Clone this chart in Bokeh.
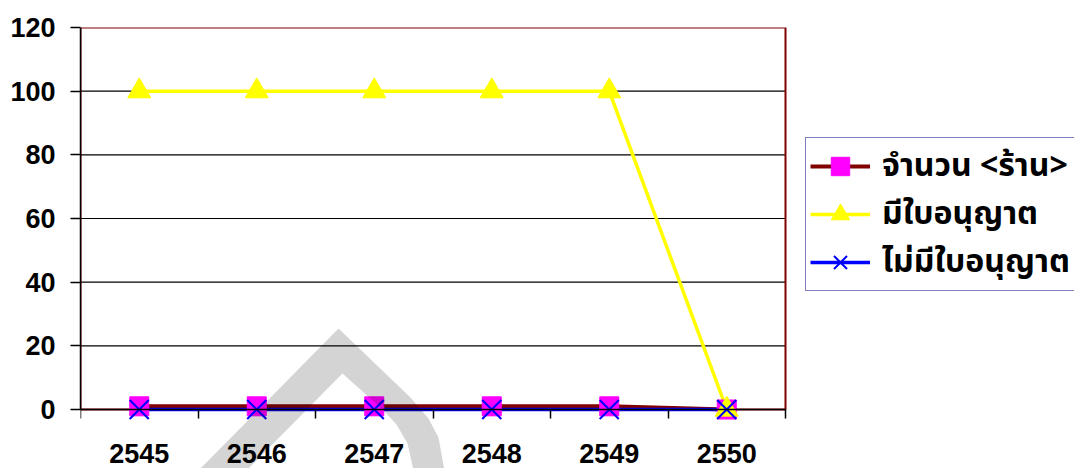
from bokeh.plotting import figure
from bokeh.models import (Range1d, LinearAxis, FixedTicker, Legend, LegendItem,
                          BoxAnnotation)
from bokeh.embed import file_html
from bokeh.resources import INLINE

# ---- data ----
years = ["2545", "2546", "2547", "2548", "2549", "2550"]
shops = [1, 1, 1, 1, 1, 0]            # จำนวน <ร้าน>
licensed = [100, 100, 100, 100, 100, 0]  # มีใบอนุญาต
unlicensed = [0, 0, 0, 0, 0, 0]        # ไม่มีใบอนุญาต
series_labels = ["จำนวน <ร้าน>", "มีใบอนุญาต", "ไม่มีใบอนุญาต"]
y_ticks = [0, 20, 40, 60, 80, 100, 120]

# ---- layout geometry ----
W, H = 1074, 468
B_LEFT, B_TOP = 80, 27
plot_w_px = 705.0                    # pixels for the category area
plot_px = 382.0                      # pixels for 0..120
frame_w = W - B_LEFT
n = len(years)
px_per_cat = plot_w_px / n
px_per_unit = plot_px / y_ticks[-1]
extra_below = H - B_TOP - plot_px    # frame continues below zero
y_min = -extra_below / px_per_unit
x_max = frame_w / px_per_cat         # frame continues right (legend area)
xs = [i + 0.5 for i in range(n)]

p = figure(width=W, height=H, x_range=Range1d(0, x_max), y_range=Range1d(y_min, y_ticks[-1]),
           output_backend="svg", toolbar_location=None,
           x_axis_location=None, y_axis_location=None,
           min_border_left=B_LEFT, min_border_right=0,
           min_border_top=B_TOP, min_border_bottom=0)
p.outline_line_color = None
p.background_fill_color = "white"
p.border_fill_color = "white"
p.xgrid.visible = False
p.ygrid.visible = False

FONT = "Liberation Sans"

yaxis = LinearAxis(ticker=FixedTicker(ticks=y_ticks), bounds=(0, y_ticks[-1]))
yaxis.axis_line_color = "black"
yaxis.axis_line_width = 1.5
yaxis.major_tick_line_color = "black"
yaxis.major_tick_line_width = 1.5
yaxis.major_tick_out = 10
yaxis.major_tick_in = 0
yaxis.minor_tick_line_color = None
yaxis.major_label_text_font = FONT
yaxis.major_label_text_font_style = "bold"
yaxis.major_label_text_font_size = "27px"
yaxis.major_label_text_color = "black"
yaxis.major_label_standoff = 15
p.add_layout(yaxis, "left")

xaxis = LinearAxis(fixed_location=0,
                   ticker=FixedTicker(ticks=xs, minor_ticks=list(range(n + 1))),
                   bounds=(0, n))
xaxis.major_label_overrides = {x: y for x, y in zip(xs, years)}
xaxis.axis_line_color = "black"
xaxis.axis_line_width = 1.5
xaxis.major_tick_line_color = None
xaxis.major_tick_out = 0
xaxis.major_tick_in = 0
xaxis.minor_tick_line_color = "black"
xaxis.minor_tick_line_width = 1.5
xaxis.minor_tick_out = 9
xaxis.minor_tick_in = 0
xaxis.major_label_text_font = FONT
xaxis.major_label_text_font_style = "bold"
xaxis.major_label_text_font_size = "27px"
xaxis.major_label_text_color = "black"
xaxis.major_label_standoff = 25
p.add_layout(xaxis, "below")

# horizontal gridlines limited to the plot area
grid_ticks = y_ticks[1:-1]
p.segment(x0=[0] * len(grid_ticks), x1=[n] * len(grid_ticks), y0=grid_ticks, y1=grid_ticks,
          line_color="black", line_width=1.2, level="underlay")

border = BoxAnnotation(left=0, right=n, bottom=0, top=y_ticks[-1], fill_color=None,
                       line_color="#800000", line_alpha=1, line_width=2, level="underlay")
p.add_layout(border)

# ---- series: lines first, then markers ----
l1 = p.line(xs, shops, color="#800000", line_width=4)
l2 = p.line(xs, licensed, color="#FFFF00", line_width=3.5)
l3 = p.line(xs, unlicensed, color="#0000FF", line_width=3.5)
m1 = p.scatter(xs, shops, marker="square", size=19, fill_color="#FF00FF", line_color="#FF00FF")
m2 = p.scatter(xs, licensed, marker="triangle", size=23, fill_color="#FFFF00", line_color="#FFFF00")
m3 = p.scatter(xs, unlicensed, marker="x", size=27, line_color="#0000FF", line_width=2)

# ---- faint watermark (page-pixel outline converted to data units) ----
wm_px = [(198, 470), (338, 328), (410, 397), (428, 418), (438, 437), (444, 470),
         (413, 470), (407, 443), (396, 424), (383, 410), (342, 373), (246, 470)]
ZERO_PX = B_TOP + plot_px
wx = [(a - B_LEFT) / px_per_cat for a, b in wm_px]
wy = [(ZERO_PX - b) / px_per_unit for a, b in wm_px]
p.patch(wx, wy, fill_color="black", fill_alpha=0.17, line_color=None, level="overlay")

legend = Legend(items=[
    LegendItem(label=series_labels[0], renderers=[l1, m1]),
    LegendItem(label=series_labels[1], renderers=[l2, m2]),
    LegendItem(label=series_labels[2], renderers=[l3, m3]),
], location=(725, 177))
legend.border_line_color = "#000080"
legend.border_line_width = 1.5
legend.background_fill_color = "white"
legend.background_fill_alpha = 1
legend.label_text_font = "Tahoma, 'Noto Sans Thai', Loma, sans-serif"
legend.label_text_font_style = "bold"
legend.label_text_font_size = "32px"
legend.label_text_color = "black"
legend.glyph_width = 60
legend.glyph_height = 46
legend.label_height = 46
legend.spacing = 0
legend.padding = 4
legend.label_standoff = 12
legend.margin = 0
p.add_layout(legend, "center")

open("out.html", "w").write(file_html(p, INLINE))
